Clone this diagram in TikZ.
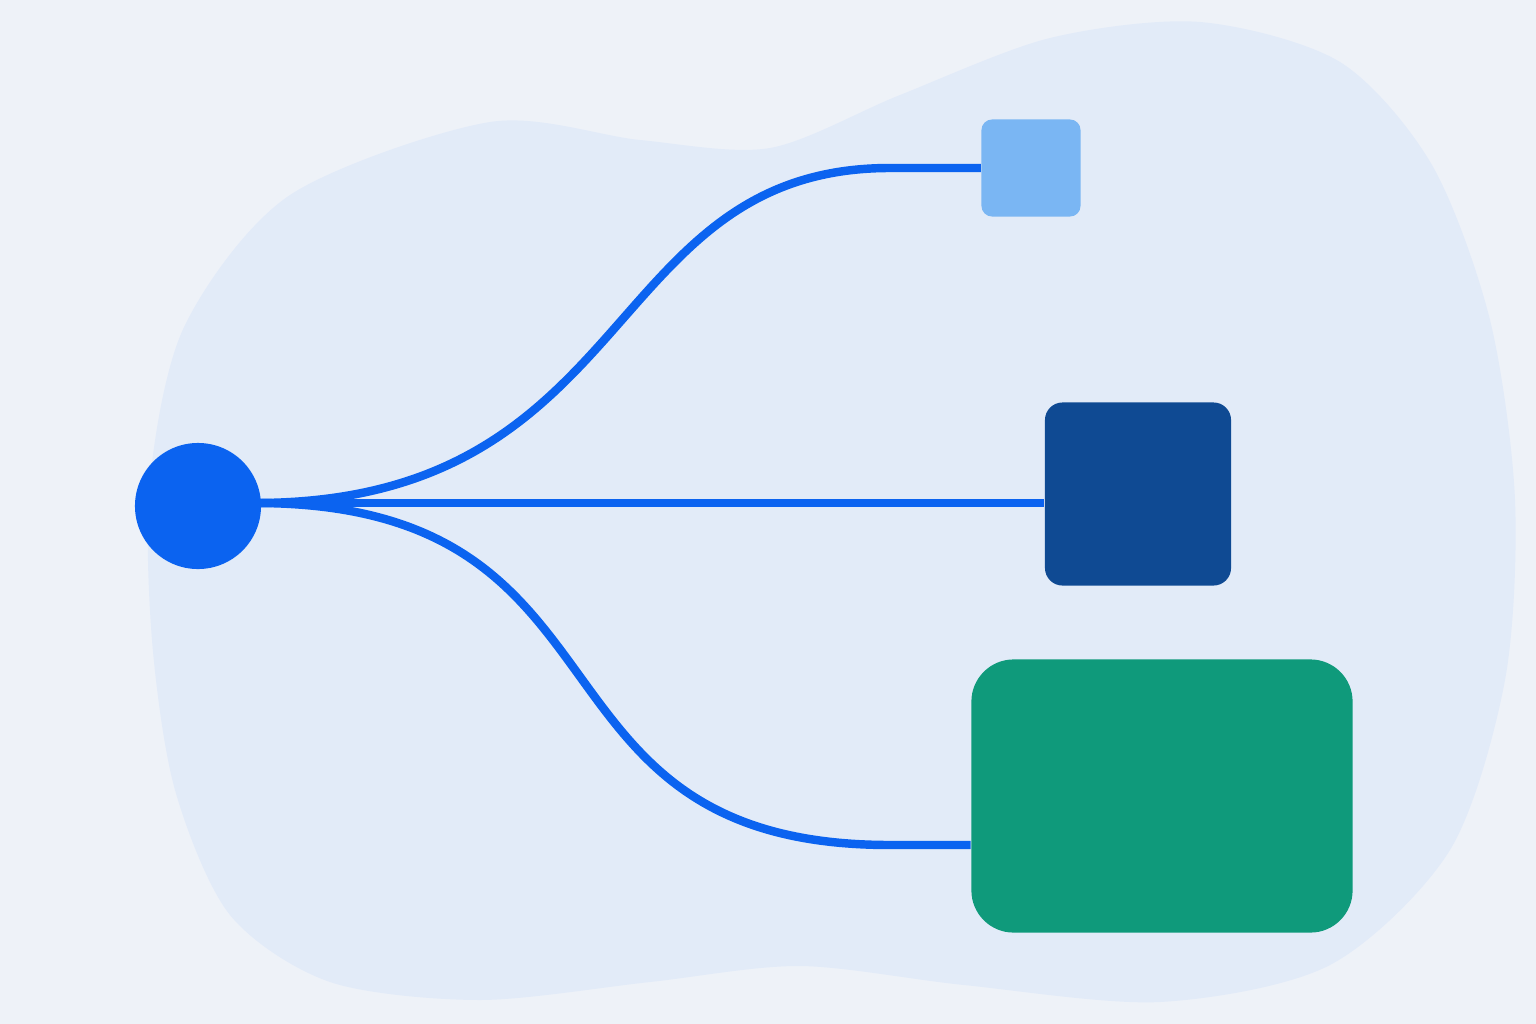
\documentclass[tikz,border=0pt]{standalone}
\usepackage{tikz}
\usetikzlibrary{calc,positioning}

\definecolor{bgpaper}{HTML}{EEF2F8}
\definecolor{blobblue}{HTML}{E2EBF8}
\definecolor{hubblue}{HTML}{0B63F0}
\definecolor{skyblue}{HTML}{7AB6F3}
\definecolor{navyblue}{HTML}{0F4A93}
\definecolor{tealgreen}{HTML}{0F9A7B}

\tikzset{
	wire/.style={draw=hubblue, line width=2.4pt},
	tile/.style={draw=none, rounded corners=#1, inner sep=0pt},
}

\begin{document}
\begin{tikzpicture}[x=0.01cm, y=-0.01cm]
		%%%%% START %%%%%
		\fill[bgpaper] (0, 0) rectangle (1536, 1024);
		\useasboundingbox (0, 0) rectangle (1536, 1024);
		
		% soft backdrop
		\fill[blobblue] plot[smooth cycle] coordinates {
			(150, 480) (185, 325) (290, 195) (490, 122) (640, 140)
			(770, 148) (900, 95) (1050, 38) (1200, 22) (1340, 62) (1432, 165)
			(1490, 320) (1515, 500) (1505, 680) (1450, 850) (1330, 965)
			(1160, 1002) (964, 985) (800, 966) (650, 982) (480, 1000)
			(330, 982) (230, 915) (175, 790) (152, 640)};
		
		% tiles
		\node[tile=3pt, fill=skyblue, minimum width=0.99cm, minimum height=0.97cm] (small) at (1031, 168) {};
		\node[tile=5pt, fill=navyblue, minimum width=1.86cm, minimum height=1.83cm] (medium) at (1138, 494) {};
		\node[tile=12pt, fill=tealgreen, minimum width=3.81cm, minimum height=2.73cm] (large) at (1162, 796) {};
		
		% hub
		\node[circle, fill=hubblue, minimum size=1.26cm, inner sep=0pt] (hub) at (198, 506) {};
		\coordinate (root) at (255, 503);
		
		% branches
		\draw[wire] (root) .. controls (640, 503) and (600, 168) .. (890, 168) -- (small.west |- 0, 168);
		\draw[wire] (root) -- (root -| medium.west);
		\draw[wire] (root) .. controls (650, 503) and (510, 845) .. (890, 845) -- (large.west |- 0, 845);
		%%%%% END %%%%%
	\end{tikzpicture}
\end{document}
